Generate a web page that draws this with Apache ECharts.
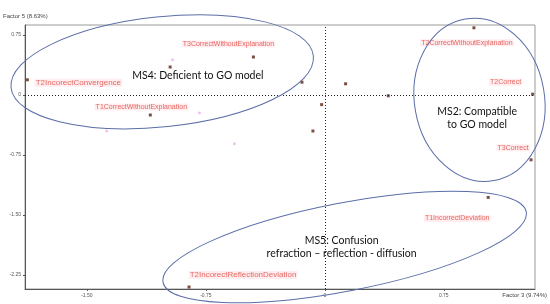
<!DOCTYPE html>
<html lang="en">
<head>
	<meta charset="UTF-8">
	<title>Factor map</title>
	<script src="https://cdn.jsdelivr.net/npm/echarts@6/dist/echarts.min.js"></script>
	<style>body{margin:0;background:#fff}</style>
</head>
<body>
	<div id="app" style="width:550px;height:304px"></div>
	<script>
		// points (Factor 3, Factor 5)
		var pointNames=["T2IncorectConvergence","T3CorrectWithoutExplanation","","T1CorrectWithoutExplanation","","","","","",
			"T2CorrectWithoutExplanation","T2Correct","T3Correct","T1IncorrectDeviation","T2IncorectReflectionDeviation"];
		var xValues=[-1.875,-0.45,-0.975,-1.10,-0.144,0.131,0.40,-0.02,-0.075,0.94,1.31,1.30,1.03,-0.856];
		var yValues=[0.19,0.475,0.35,-0.25,0.16,0.14,-0.01,-0.12,-0.45,0.84,0.01,-0.81,-1.28,-2.40];
		// faint leftover points
		var ghostX=[-0.96,-0.79,-1.375,-0.57];
		var ghostY=[0.44,-0.225,-0.45,-0.61];
		var xTicks=[-1.5,-0.75,0,0.75];
		var yTicks=[0.75,0,-0.75,-1.5,-2.25];

		// label offsets (px) from the point, and font size
		var labelOffset={
			"T2IncorectConvergence":[51,3,8],
			"T3CorrectWithoutExplanation":[-25,-13,7],
			"T1CorrectWithoutExplanation":[-9,-8,7],
			"T2CorrectWithoutExplanation":[-7,15,7],
			"T2Correct":[-27,-12,7],
			"T3Correct":[-18,-12,7],
			"T1IncorrectDeviation":[-31,21,7],
			"T2IncorectReflectionDeviation":[54,-12,8]
		};

		var myChart=echarts.init(document.getElementById('app'));

		var pts=xValues.map(function(x,i){
			var name=pointNames[i];
			var item={name:name,value:[x,yValues[i]]};
			if(name){
				var o=labelOffset[name];
				item.label={show:true,position:'inside',offset:[o[0],o[1]],fontSize:o[2]};
			}
			return item;
		});
		var ghosts=ghostX.map(function(x,i){return [x,ghostY[i]];});

		function fmt(v){return v===0?'0':v.toFixed(2);}

		var option={
			animation:false,
			grid:{left:22,right:14,top:25,bottom:15,show:true,borderColor:'#9a9a9a',borderWidth:1},
			xAxis:{
				type:'value',min:-1.89,max:1.325,
				name:'Factor 3 (9.74%)',nameLocation:'end',nameGap:0,
				nameTextStyle:{fontSize:6,color:'#444',align:'right',verticalAlign:'top',padding:[3,-12,0,0],fontFamily:'Liberation Sans'},
				axisLine:{show:true,onZero:false,lineStyle:{color:'#555',width:1}},
				axisTick:{show:true,length:2,customValues:xTicks,lineStyle:{color:'#555'}},
				axisLabel:{customValues:xTicks,fontSize:5,color:'#555',margin:4,formatter:fmt,fontFamily:'Liberation Sans'},
				splitLine:{show:false}
			},
			yAxis:{
				type:'value',min:-2.425,max:0.875,
				name:'Factor 5 (8.63%)',nameLocation:'end',nameGap:6,
				nameTextStyle:{fontSize:6,color:'#444',align:'left',padding:[0,0,0,-22],fontFamily:'Liberation Sans'},
				axisLine:{show:true,onZero:false,lineStyle:{color:'#555',width:1}},
				axisTick:{show:true,length:2,customValues:yTicks,lineStyle:{color:'#555'}},
				axisLabel:{customValues:yTicks,fontSize:5,color:'#555',margin:4,formatter:fmt,fontFamily:'Liberation Sans'},
				splitLine:{show:false}
			},
			series:[
				{
					type:'scatter',
					data:ghosts,
					symbol:'rect',symbolSize:2.5,
					itemStyle:{color:'#f4a8f0'},
					silent:true
				},
				{
					type:'scatter',
					data:pts,
					symbol:'rect',symbolSize:3,
					itemStyle:{color:'#5e2414'},
					label:{
						formatter:'{b}',
						fontSize:7,color:'#e0453c',
						fontFamily:'Liberation Sans, sans-serif',
						backgroundColor:'rgba(255,205,212,0.45)',padding:[0,1]
					},
					markLine:{
						silent:true,symbol:'none',label:{show:false},
						lineStyle:{color:'#222',type:[1,2],width:1},
						data:[{xAxis:0},{yAxis:0}]
					},
					z:3
				}
			]
		};
		myChart.setOption(option);

		// group ellipses: centre in data units, radii in px, tilt in degrees
		var groups=[
			{c:[-1.025,0.29],rx:152,ry:55,rot:6},
			{c:[0.975,-0.06],rx:65,ry:82,rot:10},
			{c:[0.125,-1.9],rx:185,ry:44,rot:11}
		];
		var notes=[
			{c:[-0.80,0.24],text:'MS4: Deficient to GO model'},
			{c:[0.96,-0.29],text:'MS2: Compatible\nto GO model'},
			{c:[0.106,-1.90],text:'MS5: Confusion\nrefraction \u2013 reflection - diffusion'}
		];
		var g=[];
		groups.forEach(function(e){
			var p=myChart.convertToPixel({gridIndex:0},e.c);
			g.push({
				type:'ellipse',x:p[0],y:p[1],rotation:e.rot*Math.PI/180,
				shape:{cx:0,cy:0,rx:e.rx,ry:e.ry},
				style:{fill:null,stroke:'#5b6ea8',lineWidth:1},
				z:10,silent:true
			});
		});
		notes.forEach(function(n){
			var p=myChart.convertToPixel({gridIndex:0},n.c);
			g.push({
				type:'text',x:p[0],y:p[1],
				style:{text:n.text,fill:'#111',font:'10.5px Lato, "Open Sans", sans-serif',align:'center',verticalAlign:'middle',lineHeight:13},
				z:11,silent:true
			});
		});
		myChart.setOption({graphic:g});
	</script>
</body>
</html>
